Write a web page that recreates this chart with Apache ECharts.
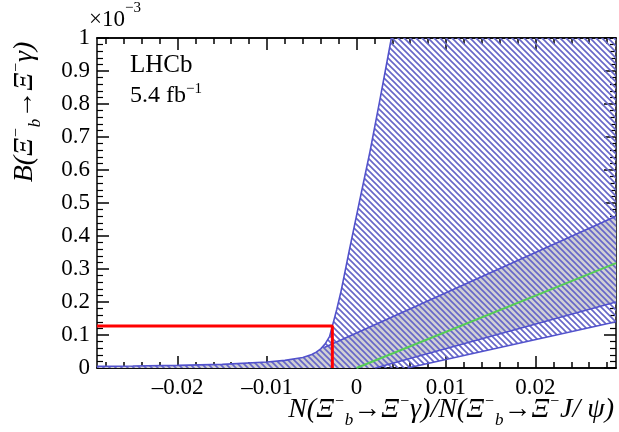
<!DOCTYPE html>
<html>
<head>
<meta charset="utf-8">
<script src="https://cdn.jsdelivr.net/npm/echarts@6/dist/echarts.min.js"></script>
<style>
  html, body { margin: 0; padding: 0; background: #fff; }
  #chart { width: 619px; height: 432px; }
</style>
</head>
<body>
<div id="chart"></div>
<script>
// Axis ranges and tick positions (x: yield ratio, y: branching fraction in units of 1e-3)
const xRange = [-0.029, 0.029];
const yRange = [0, 1];
const xMajorTicks = [-0.02, -0.01, 0, 0.01, 0.02];
const xMinorTicks = [-0.028, -0.026, -0.024, -0.022, -0.018, -0.016, -0.014, -0.012,
  -0.008, -0.006, -0.004, -0.002, 0.002, 0.004, 0.006, 0.008, 0.012, 0.014, 0.016,
  0.018, 0.022, 0.024, 0.026, 0.028];

// Upper edge of the wide band
const outerUpper = [
  [-0.029, 0.005], [-0.025, 0.006], [-0.02, 0.008], [-0.015, 0.011], [-0.01, 0.018],
  [-0.008, 0.023], [-0.006, 0.032], [-0.005, 0.041], [-0.0045, 0.048], [-0.004, 0.058],
  [-0.0035, 0.073], [-0.003, 0.096], [-0.0027, 0.127], [-0.0022, 0.178], [-0.0017, 0.236],
  [-0.0008, 0.357], [0.0003, 0.5], [0.0015, 0.655], [0.0026, 0.81], [0.0039, 1.0]
];
// Lower edge of the wide band
const outerLower = [[0.0057, 0], [0.029, 0.14]];
// Edges of the inner (grey) band
const innerUpper = [[-0.0036, 0.062], [0.029, 0.46]];
const innerLower = [[0.0021, 0], [0.029, 0.2]];
// Central value
const centralLine = [[0, 0], [0.029, 0.318]];
// Upper limit marker
const limitValue = 0.127;
const limitRatio = -0.0027;

const serif = '"Liberation Serif", "DejaVu Serif", serif';
const bandBlue = '#5252cc';

// Diagonal hatch tile
function hatchTile(color) {
  const s = 6;
  const c = document.createElement('canvas');
  c.width = s; c.height = s;
  const g = c.getContext('2d');
  g.strokeStyle = color;
  g.lineWidth = 1.6;
  g.beginPath();
  g.moveTo(-1, -1); g.lineTo(s + 1, s + 1);
  g.moveTo(-1, s - 1); g.lineTo(1, s + 1);
  g.moveTo(s - 1, -1); g.lineTo(s + 1, 1);
  g.stroke();
  return c;
}

// Polygons built from the band edges
const outerPoly = outerUpper.concat([[xRange[1], yRange[1]], [xRange[1], outerLower[1][1]], outerLower[0], [xRange[0], 0]]);
const innerPoly = outerUpper.filter(p => p[0] < innerUpper[0][0])
  .concat([innerUpper[0], innerUpper[1], innerLower[1], innerLower[0], [xRange[0], 0]]);

function polygonSeries(points, fill, z) {
  return {
    type: 'custom',
    xAxisIndex: 0, yAxisIndex: 0,
    z: z,
    silent: true,
    renderItem: function (params, api) {
      if (params.dataIndex !== 0) return null;
      return {
        type: 'polygon',
        shape: { points: points.map(p => api.coord(p)) },
        style: { fill: fill, stroke: 'none' }
      };
    },
    data: points
  };
}

function lineSeries(data, color, width, z) {
  return {
    type: 'line', xAxisIndex: 0, yAxisIndex: 0, data: data, z: z,
    showSymbol: false, symbol: 'none', silent: true, animation: false,
    lineStyle: { color: color, width: width }
  };
}

const tickFont = { fontFamily: serif, fontSize: 23, color: '#000' };
const axisLine = { show: true, onZero: false, lineStyle: { color: '#000', width: 1.5 } };

function xAxisDef(position, ticks, len, labels) {
  return {
    type: 'value', position: position, min: xRange[0], max: xRange[1],
    axisLine: axisLine,
    splitLine: { show: false },
    axisTick: { show: true, inside: true, length: len, customValues: ticks, lineStyle: { color: '#000', width: 1.5 } },
    axisLabel: labels ? Object.assign({
      show: true, margin: 8, customValues: xMajorTicks,
      formatter: v => (v < 0 ? '\u2013' + String(Math.abs(v)) : String(v))
    }, tickFont) : { show: false }
  };
}

function yAxisDef(position, labels) {
  return {
    type: 'value', position: position, min: yRange[0], max: yRange[1], interval: 0.1,
    axisLine: axisLine,
    splitLine: { show: false },
    axisTick: { show: true, inside: true, length: 12, lineStyle: { color: '#000', width: 1.5 } },
    minorTick: { show: true, splitNumber: 5, length: 6, lineStyle: { color: '#000', width: 1.2 } },
    minorSplitLine: { show: false },
    axisLabel: labels ? Object.assign({ show: true, margin: 7 }, tickFont) : { show: false }
  };
}

const chart = echarts.init(document.getElementById('chart'), null, { renderer: 'canvas' });
const hatch = { image: hatchTile('#6666c8'), repeat: 'repeat' };

const titleRich = {
  i: { fontFamily: serif, fontStyle: 'italic', fontSize: 28, color: '#000', lineHeight: 38 },
  sup: { fontFamily: serif, fontStyle: 'italic', fontSize: 16, color: '#000', verticalAlign: 'top', lineHeight: 38, padding: [3, 0, 0, 0] },
  sub: { fontFamily: serif, fontStyle: 'italic', fontSize: 17, color: '#000', verticalAlign: 'bottom', lineHeight: 38 }
};

chart.setOption({
  animation: false,
  grid: { left: 97, right: 3, top: 38, bottom: 64, containLabel: false },
  xAxis: [
    xAxisDef('bottom', xMajorTicks, 12, true),
    xAxisDef('bottom', xMinorTicks, 6, false),
    xAxisDef('top', xMajorTicks, 12, false),
    xAxisDef('top', xMinorTicks, 6, false)
  ],
  yAxis: [yAxisDef('left', true), yAxisDef('right', false)],
  series: [
    polygonSeries(innerPoly, '#d0d0d4', 1),
    polygonSeries(outerPoly, hatch, 2),
    lineSeries(outerUpper, bandBlue, 1.6, 3),
    lineSeries(outerLower, bandBlue, 1.6, 3),
    lineSeries(innerUpper, bandBlue, 1.6, 3),
    lineSeries(innerLower, bandBlue, 1.6, 3),
    lineSeries(centralLine, '#55cc55', 2, 4),
    lineSeries([[xRange[0], limitValue], [limitRatio, limitValue], [limitRatio, 0]], '#ff0000', 3, 5)
  ],
  graphic: [
    {
      type: 'text', left: 130, top: 53, z: 10,
      style: { text: 'LHCb', font: '25px ' + serif, fill: '#000' }
    },
    {
      type: 'text', left: 130, top: 82, z: 10,
      style: {
        text: '{n|5.4 fb}{s|\u22121}',
        rich: {
          n: { fontFamily: serif, fontSize: 24, color: '#000', lineHeight: 28 },
          s: { fontFamily: serif, fontSize: 15, color: '#000', verticalAlign: 'top', lineHeight: 28 }
        }
      }
    },
    {
      type: 'text', left: 89, top: 1, z: 10,
      style: {
        text: '{n|\u00d710}{s|\u22123}',
        rich: {
          n: { fontFamily: serif, fontSize: 23, color: '#000', lineHeight: 30, verticalAlign: 'bottom' },
          s: { fontFamily: serif, fontSize: 15, color: '#000', verticalAlign: 'top', lineHeight: 30 }
        }
      }
    },
    {
      type: 'text', right: 5, top: 391, z: 10,
      style: {
        text: '{i|N(\u039e}{sup|\u2212}{sub|b}{i|\u2192\u039e}{sup|\u2212}{i|\u03b3)/N(\u039e}{sup|\u2212}{sub|b}{i|\u2192\u039e}{sup|\u2212}{i|J/ \u03c8)}',
        rich: titleRich
      }
    },
    {
      type: 'text', x: 25, y: 112, z: 10, rotation: Math.PI / 2,
      style: {
        text: '{i|B(\u039e}{sup|\u2212}{sub|b}{i|\u2192\u039e}{sup|\u2212}{i|\u03b3)}',
        rich: titleRich, align: 'center', verticalAlign: 'middle'
      }
    }
  ]
});
</script>
</body>
</html>
